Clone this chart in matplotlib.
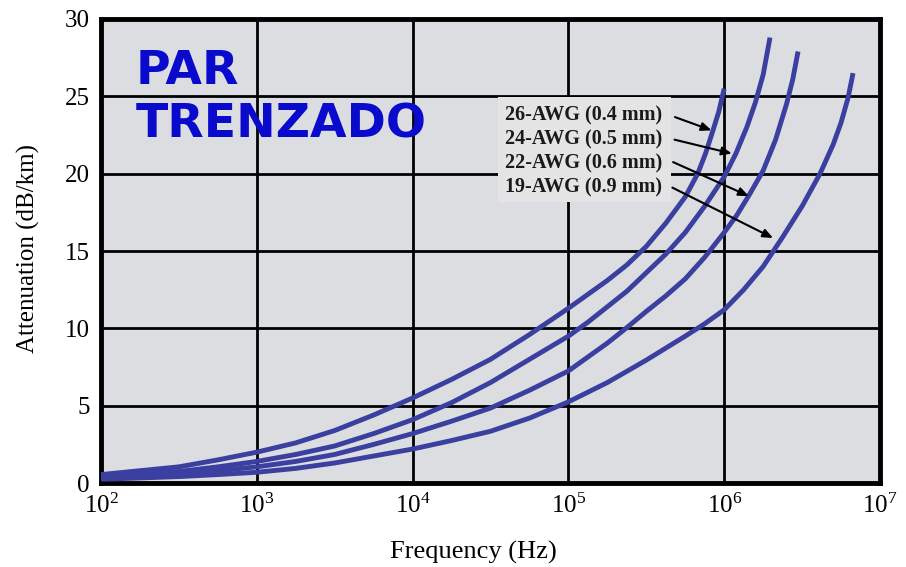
import numpy as np
import matplotlib
matplotlib.use("Agg")
import matplotlib.pyplot as plt
from matplotlib.patches import Rectangle


# log10 of frequency (Hz) and attenuation (dB/km)
logf_26 = [2.0, 2.25, 2.5, 2.75, 3.0, 3.25, 3.5, 3.75, 4.0, 4.25, 4.5, 4.75, 5.0, 5.125, 5.25, 5.375,
           5.5, 5.625, 5.75, 5.83, 5.88, 5.928, 5.965, 6.0]
att_26 = [0.55, 0.8, 1.05, 1.5, 2.0, 2.6, 3.4, 4.4, 5.5, 6.7, 8.0, 9.6, 11.3, 12.2, 13.1, 14.1,
          15.3, 16.8, 18.5, 20.0, 21.3, 22.8, 24.0, 25.5]

logf_24 = [2.0, 2.25, 2.5, 2.75, 3.0, 3.25, 3.5, 3.75, 4.0, 4.25, 4.5, 4.75, 5.0, 5.125, 5.25, 5.375,
           5.5, 5.625, 5.75, 5.875, 6.0, 6.075, 6.145, 6.2, 6.25, 6.294]
att_24 = [0.45, 0.6, 0.75, 1.05, 1.4, 1.85, 2.4, 3.2, 4.1, 5.2, 6.5, 8.0, 9.5, 10.4, 11.4, 12.4,
          13.6, 14.8, 16.2, 17.9, 19.8, 21.3, 23.0, 24.6, 26.4, 28.8]

logf_22 = [2.0, 2.25, 2.5, 2.75, 3.0, 3.25, 3.5, 3.75, 4.0, 4.25, 4.5, 4.75, 5.0, 5.125, 5.25, 5.375,
           5.5, 5.625, 5.75, 5.875, 6.0, 6.08, 6.159, 6.25, 6.33, 6.4, 6.44, 6.474]
att_22 = [0.35, 0.45, 0.6, 0.8, 1.05, 1.4, 1.85, 2.5, 3.2, 4.0, 4.85, 6.0, 7.25, 8.15, 9.05, 10.05,
          11.1, 12.1, 13.2, 14.6, 16.2, 17.3, 18.6, 20.2, 22.2, 24.5, 26.1, 27.9]

logf_19 = [2.0, 2.25, 2.5, 2.75, 3.0, 3.25, 3.5, 3.75, 4.0, 4.25, 4.5, 4.75, 5.0, 5.25, 5.5, 5.75,
           5.875, 6.0, 6.125, 6.25, 6.375, 6.5, 6.615, 6.7, 6.75, 6.795, 6.827]
att_19 = [0.25, 0.33, 0.42, 0.55, 0.7, 0.95, 1.3, 1.75, 2.2, 2.75, 3.35, 4.2, 5.25, 6.5, 7.95, 9.5,
          10.3, 11.2, 12.5, 14.0, 15.9, 17.9, 20.0, 21.9, 23.3, 24.9, 26.5]

labels = ["26-AWG (0.4 mm)", "24-AWG (0.5 mm)", "22-AWG (0.6 mm)", "19-AWG (0.9 mm)"]
yticks = [0, 5, 10, 15, 20, 25, 30]
xtick_exp = [2, 3, 4, 5, 6, 7]

curve_color = "#3a3fa0"
serif = ["Liberation Serif", "DejaVu Serif"]
plt.rcParams["mathtext.fontset"] = "custom"
plt.rcParams["mathtext.rm"] = "Liberation Serif"
plt.rcParams["mathtext.it"] = "Liberation Serif:italic"

fig = plt.figure(figsize=(9.06, 5.67), dpi=100)
ax = fig.add_axes([0.1115, 0.148, 0.8598, 0.8185])
ax.set_facecolor("#dbdde0")

for lf, att in [(logf_26, att_26), (logf_24, att_24), (logf_22, att_22), (logf_19, att_19)]:
    ax.plot(10 ** np.array(lf), att, color=curve_color, lw=3.5, solid_capstyle="butt",
            solid_joinstyle="round", zorder=3)

ax.set_xscale("log")
ax.set_xlim(1e2, 1e7)
ax.set_ylim(0, 30)
ax.set_xticks([10.0 ** e for e in xtick_exp])
ax.set_xticklabels([r"$10^{%d}$" % e for e in xtick_exp])
ax.xaxis.set_minor_locator(matplotlib.ticker.NullLocator())
ax.set_yticks(yticks)
ax.set_yticklabels([str(t) for t in yticks])
ax.tick_params(length=0, labelsize=18, pad=8)
plt.setp(ax.get_yticklabels(), family=serif)
ax.grid(True, color="black", lw=2)
ax.set_axisbelow(True)
for s in ax.spines.values():
    s.set_linewidth(3.5)

ax.set_xlabel("Frequency (Hz)", family=serif, fontsize=19)
ax.xaxis.set_label_coords(0.478, -0.125)
ax.set_ylabel("Attenuation (dB/km)", family=serif, fontsize=18)
ax.yaxis.set_label_coords(-0.078, 0.506)

ax.text(0.044, 0.935, "PAR\nTRENZADO", transform=ax.transAxes, ha="left", va="top",
        fontsize=34, fontweight="bold", color="#0a0acc", family="DejaVu Sans",
        linespacing=1.25, zorder=5)

# label box
ax.add_patch(Rectangle((0.51, 0.606), 0.222, 0.226, transform=ax.transAxes,
                       facecolor="#e4e4e4", edgecolor="none", zorder=2))
label_y = [23.79, 22.24, 20.69, 19.13]
arrow_start = [(4.83e5, 23.66), (4.8e5, 22.2), (4.7e5, 20.75), (4.65e5, 19.1)]
arrow_tip = [(8.3e5, 22.8), (1.12e6, 21.3), (1.44e6, 18.55), (2.06e6, 15.84)]
for lab, ly, st, tp in zip(labels, label_y, arrow_start, arrow_tip):
    ax.text(3.92e4, ly, lab, ha="left", va="center", fontsize=14.5, fontweight="bold",
            family=serif, color="#1a1a1a", zorder=4)
    ax.annotate("", xy=tp, xytext=st,
                arrowprops=dict(arrowstyle="-|>,head_length=0.6,head_width=0.25",
                                color="black", lw=1.5, shrinkA=0, shrinkB=0), zorder=4)

fig.savefig("out.png", dpi=100)
